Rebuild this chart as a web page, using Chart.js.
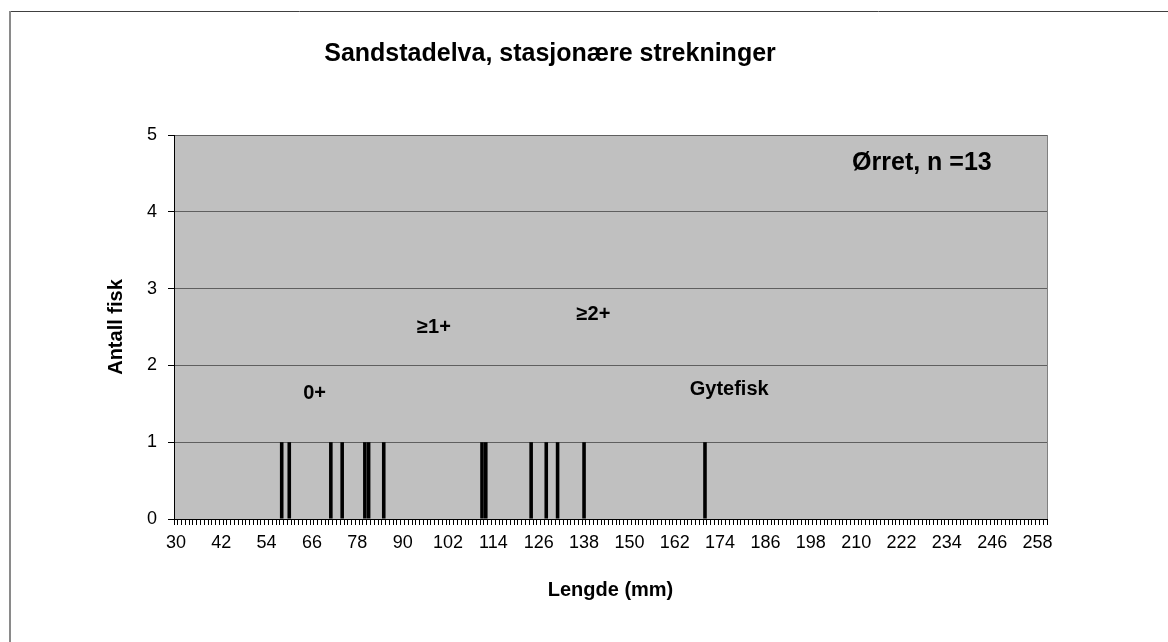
<!DOCTYPE html>
<html>
<head>
<meta charset="utf-8">
<script src="https://cdn.jsdelivr.net/npm/chart.js@4/dist/chart.umd.min.js"></script>
<style>
  html, body { margin: 0; padding: 0; background: #ffffff; }
  #wrap { width: 1168px; height: 642px; position: relative; }
</style>
</head>
<body>
<div id="wrap"><canvas id="chart" width="1168" height="642"></canvas></div>
<script>
// Lengdefordeling, ørret
const lengder = [58, 60, 71, 74, 80, 81, 85, 111, 112, 124, 128, 131, 138, 170];
const antall  = [1, 1, 1, 1, 1, 1, 1, 1, 1, 1, 1, 1, 1, 1];
const minLengde = 30;
const maxLengde = 260;
const labelSteg = 12;
const yTicks = [0, 1, 2, 3, 4, 5];

const tittel = 'Sandstadelva, stasjonære strekninger';
const xTittel = 'Lengde (mm)';
const yTittel = 'Antall fisk';

// tekster i plottet, plassert i dataverdier (lengde, antall)
const notater = [
    { tekst: '0+',           x: 66.7,  y: 1.63, size: 20 },
    { tekst: '≥1+',          x: 98.3,  y: 2.5,  size: 20 },
    { tekst: '≥2+',          x: 140.5, y: 2.66, size: 20 },
    { tekst: 'Gytefisk',     x: 176.4, y: 1.69, size: 20 },
    { tekst: 'Ørret, n =13', x: 227.4, y: 4.64, size: 25 }
];

const kategorier = [];
for (let l = minLengde; l <= maxLengde; l++) kategorier.push(String(l));

const verdier = kategorier.map(k => {
    const i = lengder.indexOf(Number(k));
    return i >= 0 ? antall[i] : 0;
});

const FONT = "'Liberation Sans', Arial, sans-serif";

const bakgrunn = {
    id: 'bakgrunn',
    beforeDraw(chart) {
        const { ctx, chartArea: a } = chart;
        ctx.save();
        ctx.fillStyle = '#ffffff';
        ctx.fillRect(0, 0, chart.width, chart.height);
        ctx.fillStyle = '#c0c0c0';
        ctx.fillRect(a.left, a.top, a.right - a.left, a.bottom - a.top);

        // ytre ramme
        ctx.strokeStyle = '#404040';
        ctx.lineWidth = 1;
        ctx.beginPath();
        ctx.moveTo(10, 11.5);
        ctx.lineTo(chart.width, 11.5);
        ctx.stroke();
        ctx.strokeStyle = '#8a8a8a';
        ctx.lineWidth = 2;
        ctx.beginPath();
        ctx.moveTo(10, 11);
        ctx.lineTo(10, chart.height);
        ctx.stroke();
        ctx.restore();
    },
    afterDraw(chart) {
        const { ctx, chartArea: a, scales } = chart;
        ctx.save();
        ctx.strokeStyle = '#808080';
        ctx.lineWidth = 1;
        ctx.beginPath();
        ctx.moveTo(a.right + 0.5, a.top);
        ctx.lineTo(a.right + 0.5, a.bottom);
        ctx.stroke();

        ctx.fillStyle = '#000';
        ctx.textAlign = 'center';
        ctx.textBaseline = 'middle';
        ctx.font = `bold 25px ${FONT}`;
        ctx.fillText(tittel, 550, 54);

        notater.forEach(n => {
            ctx.font = `bold ${n.size}px ${FONT}`;
            const px = scales.x.getPixelForValue(n.x - minLengde);
            const py = scales.y.getPixelForValue(n.y);
            ctx.fillText(n.tekst, px, py);
        });
        ctx.restore();
    }
};

new Chart(document.getElementById('chart'), {
    type: 'bar',
    data: {
        labels: kategorier,
        datasets: [{
            data: verdier,
            backgroundColor: '#000000',
            borderWidth: 0,
            barPercentage: 0.95,
            categoryPercentage: 1.0
        }]
    },
    options: {
        responsive: false,
        animation: false,
        layout: {
            padding: { left: 100, right: 121, top: 135, bottom: 36 }
        },
        plugins: {
            legend: { display: false },
            tooltip: { enabled: false },
            title: { display: false }
        },
        scales: {
            x: {
                offset: true,
                afterFit: s => { s.height = 87; },
                grid: {
                    display: true,
                    offset: true,
                    drawOnChartArea: false,
                    drawTicks: true,
                    tickLength: 6,
                    color: '#000'
                },
                border: { color: '#000', width: 1 },
                ticks: {
                    autoSkip: false,
                    maxRotation: 0,
                    minRotation: 0,
                    padding: 7,
                    color: '#000',
                    font: { family: FONT, size: 18 },
                    callback: (v, i) => (i % labelSteg === 0 ? kategorier[i] : '')
                },
                title: {
                    display: true,
                    text: xTittel,
                    color: '#000',
                    font: { family: FONT, size: 20, weight: 'bold' }
                }
            },
            y: {
                min: yTicks[0],
                max: yTicks[yTicks.length - 1],
                afterFit: s => { s.width = 74; },
                afterBuildTicks: s => { s.ticks = yTicks.map(v => ({ value: v })); },
                grid: {
                    color: '#5f5f5f',
                    tickColor: '#000',
                    tickLength: 6,
                    lineWidth: 1
                },
                border: { color: '#000', width: 1 },
                ticks: {
                    padding: 11,
                    color: '#000',
                    font: { family: FONT, size: 18 }
                },
                title: {
                    display: true,
                    text: yTittel,
                    color: '#000',
                    font: { family: FONT, size: 20, weight: 'bold' }
                }
            }
        }
    },
    plugins: [bakgrunn]
});
</script>
</body>
</html>
